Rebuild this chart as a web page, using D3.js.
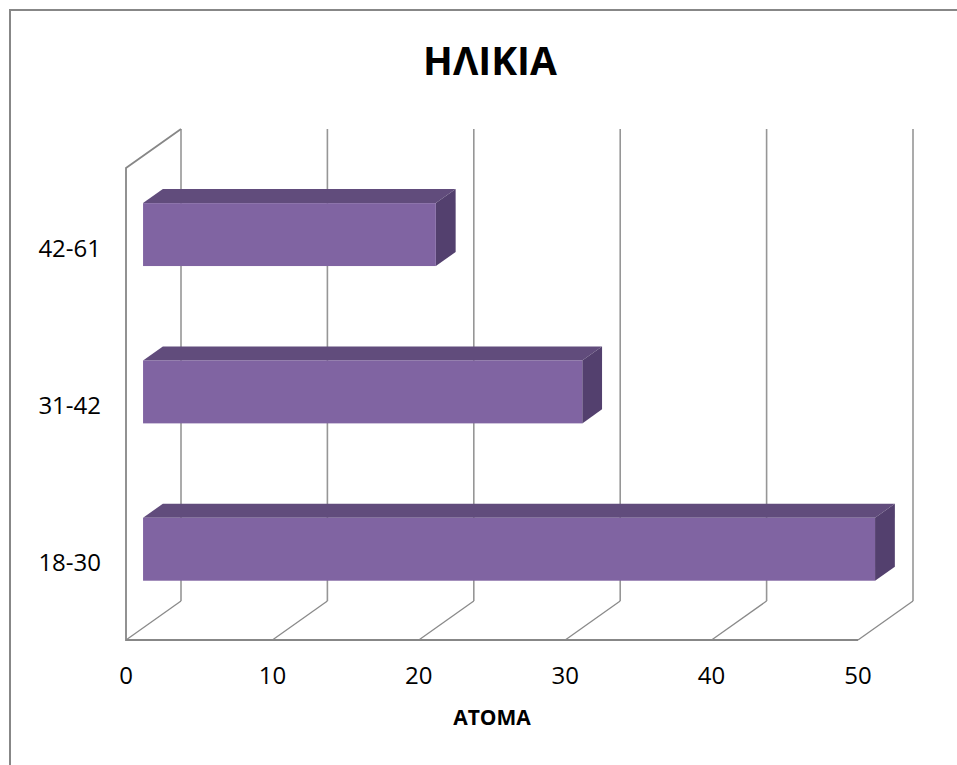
<!DOCTYPE html>
<html>
<head>
<meta charset="utf-8">
<script src="https://cdn.jsdelivr.net/npm/d3@7"></script>
<style>
  body { margin: 0; background: #fff; }
  text { font-family: "Open Sans", "Noto Sans", sans-serif; fill: #000; }
</style>
</head>
<body>
<svg id="chart"></svg>
<script>
const categories = ["42-61", "31-42", "18-30"];
const values = [20, 30, 50];
const xTicks = [0, 10, 20, 30, 40, 50];
const title = "ΗΛΙΚΙΑ";
const xTitle = "ΑΤΟΜΑ";

const width = 957;
const height = 765;

const svg = d3.select("#chart")
    .attr("width", width)
    .attr("height", height);

// outer chart frame (only left and top are inside the picture)
svg.append("rect")
    .attr("x", 10).attr("y", 10)
    .attr("width", 970).attr("height", 780)
    .attr("fill", "#fff")
    .attr("stroke", "#878787")
    .attr("stroke-width", 2);

// front plane of the 3D box
const plotTop = 168, plotBottom = 640;
const depthX = 55, depthY = -39;   // offset from front plane to back wall

const x = d3.scaleLinear().domain([0, 50]).range([126, 858]);
const y = d3.scaleBand().domain(categories).range([plotTop, plotBottom])
    .paddingInner(0.6).paddingOuter(0.3);

const g = svg.append("g");

// back wall grid lines
g.append("g")
    .selectAll("line")
    .data(xTicks)
    .enter().append("line")
    .attr("x1", d => x(d) + depthX).attr("x2", d => x(d) + depthX)
    .attr("y1", plotTop + depthY).attr("y2", plotBottom + depthY)
    .attr("stroke", "#969696")
    .attr("stroke-width", 1.6);

// floor grid lines
g.append("g")
    .selectAll("line")
    .data(xTicks)
    .enter().append("line")
    .attr("x1", d => x(d)).attr("x2", d => x(d) + depthX)
    .attr("y1", plotBottom).attr("y2", plotBottom + depthY)
    .attr("stroke", "#8a8a8a")
    .attr("stroke-width", 1.3);

// left wall edges and front floor edge
const edge = d3.line();
g.append("path")
    .attr("d", edge([[x(0) + depthX, plotTop + depthY], [x(0), plotTop], [x(0), plotBottom], [x(50), plotBottom]]))
    .attr("fill", "none")
    .attr("stroke", "#878787")
    .attr("stroke-width", 1.8);

// bars, placed partway into the depth of the box
const f1 = 0.31, f2 = 0.67;
const bars = g.append("g")
    .selectAll("g")
    .data(categories.map((c, i) => ({ cat: c, value: values[i] })))
    .enter().append("g");

const poly = pts => "M" + pts.map(p => p.join(",")).join("L") + "Z";

bars.append("path")   // top face
    .attr("fill", "#614c7c")
    .attr("d", d => {
        const x0 = x(0), x1 = x(d.value), yt = y(d.cat);
        return poly([
            [x0 + f1 * depthX, yt + f1 * depthY],
            [x0 + f2 * depthX, yt + f2 * depthY],
            [x1 + f2 * depthX, yt + f2 * depthY],
            [x1 + f1 * depthX, yt + f1 * depthY]
        ]);
    });

bars.append("path")   // right end face
    .attr("fill", "#53406e")
    .attr("d", d => {
        const x1 = x(d.value), yt = y(d.cat), yb = yt + y.bandwidth();
        return poly([
            [x1 + f1 * depthX, yt + f1 * depthY],
            [x1 + f2 * depthX, yt + f2 * depthY],
            [x1 + f2 * depthX, yb + f2 * depthY],
            [x1 + f1 * depthX, yb + f1 * depthY]
        ]);
    });

bars.append("rect")   // front face
    .attr("x", x(0) + f1 * depthX)
    .attr("y", d => y(d.cat) + f1 * depthY)
    .attr("width", d => x(d.value) - x(0))
    .attr("height", y.bandwidth())
    .attr("fill", "#8064a2");

// category labels
svg.append("g")
    .selectAll("text")
    .data(categories)
    .enter().append("text")
    .attr("x", 101)
    .attr("y", d => y(d) + y.bandwidth() / 2 + 10)
    .attr("text-anchor", "end")
    .attr("font-size", "24px")
    .text(d => d);

// value tick labels
svg.append("g")
    .selectAll("text")
    .data(xTicks)
    .enter().append("text")
    .attr("x", d => x(d))
    .attr("y", 684)
    .attr("text-anchor", "middle")
    .attr("font-size", "24px")
    .text(d => d);

svg.append("text")
    .attr("x", 492).attr("y", 725)
    .attr("text-anchor", "middle")
    .attr("font-size", "21px")
    .attr("font-weight", "bold")
    .text(xTitle);

svg.append("text")
    .attr("x", 490).attr("y", 75)
    .attr("text-anchor", "middle")
    .attr("font-size", "39px")
    .attr("font-weight", "bold")
    .text(title);
</script>
</body>
</html>
